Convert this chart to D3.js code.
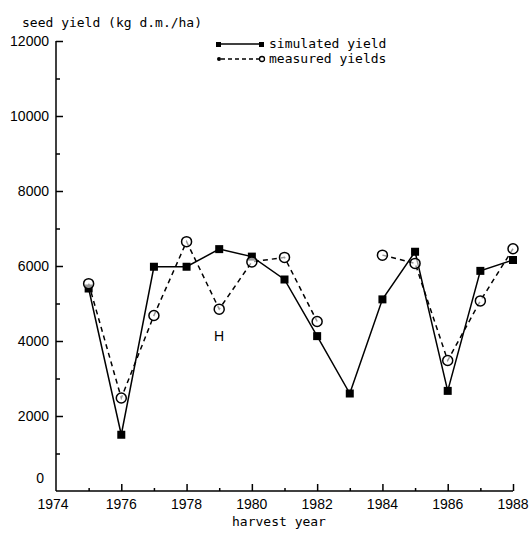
<!DOCTYPE html>
<html><head><meta charset="utf-8">
<script src="https://cdn.jsdelivr.net/npm/d3@7"></script>
<style>body{margin:0;background:#fff}svg{display:block}</style>
</head><body>
<svg id="c" width="529" height="533"></svg>
<script>
const years = [1975,1976,1977,1978,1979,1980,1981,1982,1983,1984,1985,1986,1987,1988];
const simulated = [5400,1500,5980,5980,6450,6250,5640,4130,2600,5110,6380,2670,5870,6160];
const measured = [5530,2480,4680,6650,4850,6110,6230,4520,null,6290,6070,3480,5070,6460];
const xTickLabels = [1974,1976,1978,1980,1982,1984,1986,1988];
const yTickLabels = [0,2000,4000,6000,8000,10000,12000];

const svg = d3.select("#c");
const x = d3.scaleLinear().domain([1974,1988]).range([56,513]);
const y = d3.scaleLinear().domain([0,12000]).range([491,41]);
const mono = "'DejaVu Sans Mono', monospace";
const sans = "'Liberation Sans', Arial, sans-serif";

// axes
const gx = svg.append("g").attr("transform",`translate(0,${y(0)})`)
  .call(d3.axisTop(x).tickValues(d3.range(1975,1988,2)).tickSize(3).tickFormat(""));
gx.select(".domain").remove();
const gx2 = svg.append("g").attr("transform",`translate(0,${y(0)})`)
  .call(d3.axisTop(x).tickValues(xTickLabels.slice(1)).tickSize(7).tickFormat(""));
gx2.select(".domain").remove();
svg.append("line").attr("x1",x(1974)).attr("x2",x(1988)).attr("y1",y(0)).attr("y2",y(0))
  .attr("stroke","#000").attr("stroke-width",1.5);
svg.selectAll(".xl").data(xTickLabels).join("text")
  .attr("x",d=>x(d)-(d===1974?3:0)).attr("y",y(0)+18).attr("text-anchor","middle")
  .attr("font-family",sans).attr("font-size",14).text(d=>d);

const gy = svg.append("g").attr("transform",`translate(${x(1974)},0)`)
  .call(d3.axisRight(y).tickValues(d3.range(1000,12000,2000)).tickSize(4).tickFormat(""));
gy.select(".domain").remove();
const gy2 = svg.append("g").attr("transform",`translate(${x(1974)},0)`)
  .call(d3.axisRight(y).tickValues(yTickLabels.slice(1)).tickSize(7).tickFormat(""));
gy2.select(".domain").remove();
svg.append("line").attr("x1",x(1974)).attr("x2",x(1974)).attr("y1",y(12000)).attr("y2",y(0))
  .attr("stroke","#000").attr("stroke-width",1.5);
svg.selectAll(".yl").data(yTickLabels).join("text")
  .attr("x",d=>d===0?x(1974)-12:x(1974)-7).attr("y",d=>y(d)+(d===0?-8:5)).attr("text-anchor","end")
  .attr("font-family",sans).attr("font-size",14).text(d=>d);
svg.selectAll("path,line").attr("stroke","#000");
svg.selectAll(".tick line").attr("stroke-width",1.5);

// title & axis label
svg.append("text").attr("x",22).attr("y",27).attr("font-family",mono).attr("font-size",13).text("seed yield (kg d.m./ha)");
svg.append("text").attr("x",279).attr("y",526).attr("text-anchor","middle").attr("font-family",mono).attr("font-size",13).text("harvest year");
svg.append("text").attr("x",219).attr("y",341).attr("text-anchor","middle").attr("font-family",sans).attr("font-size",14).text("H");

// lines
const simData = years.map((yr,i)=>({yr,v:simulated[i]}));
const meaData = years.map((yr,i)=>({yr,v:measured[i]}));
const line = d3.line().defined(d=>d.v!==null).x(d=>x(d.yr)).y(d=>y(d.v));
svg.append("path").datum(meaData).attr("d",line).attr("fill","none").attr("stroke","#000")
  .attr("stroke-width",1.5).attr("stroke-dasharray","5,4");
svg.append("path").datum(simData).attr("d",line).attr("fill","none").attr("stroke","#000").attr("stroke-width",1.5);
svg.selectAll(".sq").data(simData).join("rect")
  .attr("x",d=>x(d.yr)-4).attr("y",d=>y(d.v)-4).attr("width",8).attr("height",8).attr("fill","#000");
svg.selectAll(".ci").data(meaData.filter(d=>d.v!==null)).join("circle")
  .attr("cx",d=>x(d.yr)).attr("cy",d=>y(d.v)).attr("r",5).attr("fill","#fff").attr("fill-opacity",0.6)
  .attr("stroke","#000").attr("stroke-width",1.5);

// legend
const lg = svg.append("g");
lg.append("line").attr("x1",219).attr("x2",262).attr("y1",44).attr("y2",44).attr("stroke","#000").attr("stroke-width",1.5);
lg.append("rect").attr("x",216).attr("y",42).attr("width",5).attr("height",5).attr("fill","#000");
lg.append("rect").attr("x",259).attr("y",42).attr("width",5).attr("height",5).attr("fill","#000");
lg.append("text").attr("x",269).attr("y",48).attr("font-family",mono).attr("font-size",13).text("simulated yield");
lg.append("line").attr("x1",221).attr("x2",259).attr("y1",59).attr("y2",59).attr("stroke","#000").attr("stroke-width",1.5).attr("stroke-dasharray","4,3");
lg.append("circle").attr("cx",219).attr("cy",59).attr("r",2).attr("fill","#000");
lg.append("circle").attr("cx",262).attr("cy",59).attr("r",2.5).attr("fill","#fff").attr("stroke","#000").attr("stroke-width",1.3);
lg.append("text").attr("x",269).attr("y",63).attr("font-family",mono).attr("font-size",13).text("measured yields");
</script>
</body></html>
